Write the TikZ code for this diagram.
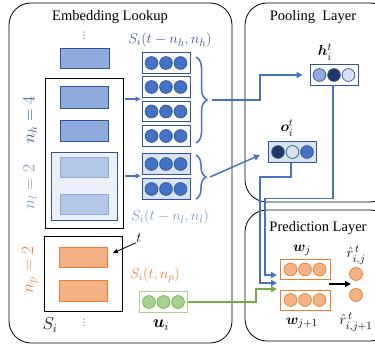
\documentclass[tikz,border=0pt]{standalone}
\usepackage{fontspec}
\setmainfont{Liberation Serif}
\newfontfamily\djv{DejaVu Sans}
\usepackage{amsmath,bm}
\usetikzlibrary{decorations.pathreplacing,arrows.meta}
\definecolor{navy}{HTML}{203864}
\definecolor{dblue}{HTML}{2F5597}
\definecolor{mblue}{HTML}{4472C4}
\definecolor{lblue}{HTML}{8FAADC}
\definecolor{pblue}{HTML}{B4C7E7}
\definecolor{vpale}{HTML}{DAE3F3}
\definecolor{tblue}{HTML}{6E95D6}
\definecolor{oran}{HTML}{ED7D31}
\definecolor{loran}{HTML}{F4B183}
\definecolor{gree}{HTML}{70AD47}
\definecolor{lgree}{HTML}{A9D18E}
\newcommand\myvec[9]{%
  \node[vbox,fill=#4,draw=#5] (#1) at (#2,#3) {};
  \draw[line width=0.7pt,fill=#6,draw=#9] ([xshift=-14.5pt]#1.center) circle (6.4pt);
  \draw[line width=0.7pt,fill=#7,draw=#9] (#1.center) circle (6.4pt);
  \draw[line width=0.7pt,fill=#8,draw=#9] ([xshift=14.5pt]#1.center) circle (6.4pt);
}
\begin{document}
\begin{tikzpicture}[x=1pt,y=-1pt,
  panel/.style={draw=black,line width=0.8pt,rounded corners=22pt},
  title/.style={font=\fontsize{14.5}{16}\selectfont,inner sep=0pt},
  lab/.style={font=\fontsize{15}{17}\selectfont,inner sep=0pt},
  vbox/.style={minimum width=48pt,minimum height=20.5pt,inner sep=0pt,line width=0.9pt},
  frame/.style={draw=black,line width=0.9pt},
  blk/.style={line width=0.9pt},
  conn/.style={draw=mblue,line width=1.5pt},
  tip/.style={-{Triangle[length=6pt,width=6pt]}},
  vd/.style={font=\djv\fontsize{9}{9}\selectfont,inner sep=0pt,text=black!70},
]
\useasboundingbox (0,0) rectangle (375,348);
\clip (0,0) rectangle (375,348);

% panels
\draw[panel] (9,3) rectangle (232,343);
\draw[panel] (245,3) rectangle (392,202);
\draw[panel] (245,210) rectangle (392,341);
\node[title] (t1) at (110,17) {Embedding Lookup};
\node[title] (t2) at (313,17) {Pooling\ \ Layer};
\node[title] (t3) at (318,228) {Prediction Layer};

% left column blocks
\node[vd] (d1) at (84,36) {⋮};
\node[vd] (d2) at (84,323) {⋮};
\draw[blk,fill=lblue,draw=dblue] (60,48) rectangle (109,68);
\draw[frame] (45,78) rectangle (123,228);
\draw[blk,fill=lblue,draw=dblue] (60,86) rectangle (108,108);
\draw[blk,fill=lblue,draw=dblue] (60,120) rectangle (108,141);
\draw[blk,fill=vpale!55,draw=dblue] (51,152) rectangle (117,220);
\draw[blk,fill=pblue,draw=lblue] (60,157) rectangle (108,177);
\draw[blk,fill=pblue,draw=lblue] (60,194) rectangle (108,214);
\draw[frame] (44,236) rectangle (122,311);
\draw[blk,fill=loran,draw=oran] (59,247) rectangle (107,267);
\draw[blk,fill=loran,draw=oran] (59,280) rectangle (107,301);

% side labels
\node[lab,rotate=90,text=dblue,font=\fontsize{17}{19}\selectfont] (nh) at (30,120) {$n_h = 4$};
\node[lab,rotate=90,text=tblue,font=\fontsize{17}{19}\selectfont] (nl) at (30,187) {$n_l = 2$};
\node[lab,rotate=90,text=oran,font=\fontsize{17}{19}\selectfont] (np) at (30,270) {$n_p = 2$};
\node[lab,font=\fontsize{17}{19}\selectfont] (si) at (50,325) {$S_i$};

% vectors
\myvec{v1}{166}{63}{white}{dblue}{mblue}{mblue}{mblue}{dblue}
\myvec{v2}{166}{87}{white}{dblue}{mblue}{mblue}{mblue}{dblue}
\myvec{v3}{166}{111.5}{white}{dblue}{mblue}{mblue}{mblue}{dblue}
\myvec{v4}{166}{136}{white}{dblue}{mblue}{mblue}{mblue}{dblue}
\myvec{v5}{166}{164}{vpale}{dblue}{mblue}{mblue}{mblue}{dblue}
\myvec{v6}{166}{189}{vpale}{dblue}{mblue}{mblue}{mblue}{dblue}
\myvec{u}{163.5}{302}{white}{lgree}{lgree}{lgree}{lgree}{gree}

\node[lab,text=dblue] (lh) at (170,40) {$S_i(t-n_h,n_h)$};
\node[lab,text=tblue] (ll) at (170,217) {$S_i(t-n_l,n_l)$};
\node[lab,text=oran] (lp) at (155,275) {$S_i(t,n_p)$};
\node[lab,font=\fontsize{17}{19}\selectfont] (lu) at (161,325) {$\bm{u}_i$};
\node[lab] (lt) at (139,238) {$t$};
\coordinate (tt) at (113,253);
\draw[line width=0.8pt,-{Triangle[length=5pt,width=4.5pt]}] (lt.south west) -- (tt);

% entry arrows
\coordinate (e1) at (125,99);
\coordinate (e2) at (125,176);
\draw[draw=mblue,line width=1.2pt,-{Triangle[length=5pt,width=5pt]}] (e1) -- ([xshift=-1pt]v2.west |- e1);
\draw[draw=mblue,line width=1.2pt,-{Triangle[length=5pt,width=5pt]}] (e2) -- ([xshift=-1pt]v6.west |- e2);

% braces
\draw[draw=mblue,line width=1.5pt,decorate,decoration={brace,amplitude=11pt}] (196,57) -- (196,143);
\draw[draw=mblue,line width=1.5pt,decorate,decoration={brace,amplitude=10pt}] (196,155) -- (196,199);
\coordinate (b1) at (212,100);
\coordinate (b2) at (210,177);

% pooling vectors
\myvec{h}{334}{75}{white}{dblue}{lblue}{navy}{vpale}{dblue}
\myvec{o}{292.5}{152}{vpale}{dblue}{navy}{vpale}{mblue}{dblue}
\node[lab] (lhh) at (325,52) {$\bm{h}_i^t$};
\node[lab] (loo) at (287,128) {$\bm{o}_i^t$};

\draw[conn,tip] (b1) -- (260,100) |- ([xshift=-7pt]h.west);
\draw[conn,tip] (b2) -- ([xshift=-8pt,yshift=-3pt]o.west);

% prediction
\node[vbox,fill=white,draw=oran,minimum width=50pt,minimum height=19.5pt] (wj) at (305,269.5) {};
\node[vbox,fill=white,draw=oran,minimum width=50pt,minimum height=20pt] (wk) at (305,300) {};
\foreach \n in {wj,wk}{
  \draw[line width=0.7pt,fill=loran,draw=oran] ([xshift=-14.5pt]\n.center) circle (6.4pt);
  \draw[line width=0.7pt,fill=loran,draw=oran] (\n.center) circle (6.4pt);
  \draw[line width=0.7pt,fill=loran,draw=oran] ([xshift=14.5pt]\n.center) circle (6.4pt);
}
\node[circle,minimum size=13pt,inner sep=0pt,fill=loran,draw=oran,line width=0.7pt] (r1) at (356,274) {};
\node[circle,minimum size=13pt,inner sep=0pt,fill=loran,draw=oran,line width=0.7pt] (r2) at (356,295) {};
\node[lab] (lwj) at (302,250) {$\bm{w}_j$};
\node[lab] (lwk) at (302,323) {$\bm{w}_{j+1}$};
\node[lab] (lr1) at (356,255) {$\hat{r}_{i,j}^{\,t}$};
\node[lab] (lr2) at (356,322) {$\hat{r}_{i,j+1}^{\,t}$};

\coordinate (a1) at (329,284);
\coordinate (a2) at (351,284);
\draw[line width=1.3pt,-{Triangle[length=6pt,width=6pt]}] (a1) -- (a2);

\coordinate (p1) at (277,275);
\coordinate (p2) at (277,283);
\coordinate (p3) at (277,289);
\draw[conn,tip] ([xshift=-1pt]h.south) -- ++(0,113) -| (265,275) -- (p1);
\draw[conn,tip] (291,163) -- (291,177) -| (260,283) -- (p2);
\draw[draw=gree,line width=1.5pt,tip] (u.east) -- (256,302) |- (p3);
\end{tikzpicture}
\end{document}
